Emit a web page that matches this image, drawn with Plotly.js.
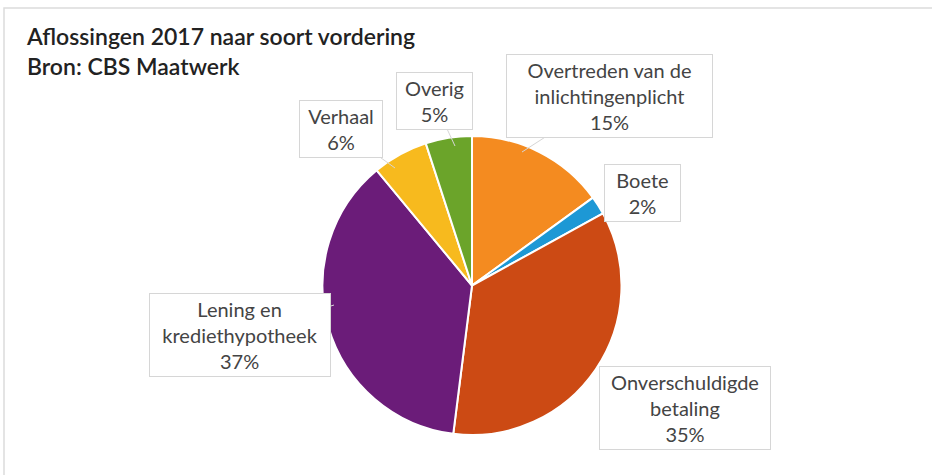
<!DOCTYPE html>
<html>
<head>
<meta charset="utf-8">
<script src="https://cdn.plot.ly/plotly-3.0.1.min.js"></script>
<style>html,body{margin:0;padding:0;background:#fff;}#chart{width:932px;height:475px;}</style>
</head>
<body>
<div id="chart"></div>
<script>
const categories = ["Overtreden van de<br>inlichtingenplicht", "Boete", "Onverschuldigde<br>betaling", "Lening en<br>krediethypotheek", "Verhaal", "Overig"];
const values = [15, 2, 35, 37, 6, 5];
const colors = ["#F48B20", "#1D98D5", "#CC4A14", "#6B1C79", "#F7BA1E", "#6BA42A"];
const titleLines = ["Aflossingen 2017 naar soort vordering", "Bron: CBS Maatwerk"];

// label callout layout (pixel positions: box center, arrow tip, box width)
const W = 932, H = 475;
const boxCenters = [[609, 96], [642, 193], [685, 408], [240, 335], [341, 129], [434, 101]];
const tips = [[522, 152], [620, 212], [603, 372], [334, 305], [395, 168], [455, 146]];
const boxWidths = [199, 69, 164, 174, 76, 69];

const annotations = categories.map((c, i) => ({
  text: c + "<br>" + values[i] + "%",
  xref: "paper", yref: "paper",
  x: tips[i][0] / W, y: 1 - tips[i][1] / H,
  ax: boxCenters[i][0] - tips[i][0], ay: boxCenters[i][1] - tips[i][1],
  showarrow: true, arrowhead: 0, arrowwidth: 1, arrowcolor: "#d6d6d6", standoff: 0,
  bordercolor: "#d6d6d6", borderwidth: 1, borderpad: 3, bgcolor: "#fff",
  width: boxWidths[i],
  font: {family: "Lato, 'Open Sans', sans-serif", size: 20, color: "#444"},
  align: "center"
}));

annotations.push({
  text: titleLines.join("<br>"),
  xref: "paper", yref: "paper",
  x: 24 / W, xanchor: "left",
  y: 1 - 20 / H, yanchor: "top",
  showarrow: false, align: "left",
  font: {family: "Lato, 'Open Sans', sans-serif", size: 23, color: "#222", weight: 600}
});

const data = [{
  type: "pie",
  labels: categories,
  values: values,
  sort: false,
  direction: "clockwise",
  rotation: 0,
  marker: {colors: colors, line: {color: "#fff", width: 2}},
  textinfo: "none",
  hoverinfo: "label+percent",
  domain: {x: [322 / W, 622 / W], y: [1 - 435 / H, 1 - 136 / H]},
  showlegend: false
}];

const layout = {
  width: W, height: H,
  margin: {l: 0, r: 0, t: 0, b: 0},
  paper_bgcolor: "#fff",
  annotations: annotations,
  shapes: [{type: "rect", xref: "paper", yref: "paper", x0: 4 / W, x1: 1.01, y0: -0.01, y1: 1 - 8 / H, line: {color: "#dcdcdc", width: 1.5}}]
};

Plotly.newPlot("chart", data, layout, {staticPlot: true});
</script>
</body>
</html>
